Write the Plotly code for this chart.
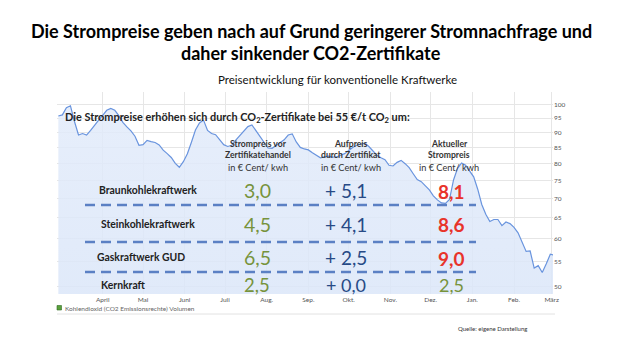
import pandas as pd
import plotly.graph_objects as go

# ---------------- data ----------------
start_date = "2021-02-27"
price_index = [
    95.8, 96.2, 98.9, 99.6, 93.8, 89.1, 89.6, 89.1, 90.7, 92.6,
    94.3, 96.0, 97.9, 98.6, 97.9, 95.9, 93.5, 91.9, 90.5, 88.7,
    85.7, 85.9, 87.3, 86.9, 86.6, 85.8, 84.1, 83.0, 81.8, 80.0,
    78.8, 80.5, 83.0, 86.7, 90.8, 93.3, 94.3, 90.7, 89.6, 89.2,
    87.6, 85.9, 85.3, 85.7, 87.4, 89.0, 90.3, 92.0, 92.6, 90.6,
    88.6, 86.4, 84.8, 84.7, 85.7, 86.4, 87.5, 89.1, 89.5, 86.8,
    85.0, 84.5, 84.2, 83.3, 82.4, 81.7, 82.0, 82.2, 81.9, 82.0,
    82.5, 83.0, 84.0, 85.0, 85.7, 86.1, 86.4, 85.3, 83.7, 82.5,
    81.7, 81.1, 79.4, 79.2, 80.3, 80.9, 79.9, 78.7, 76.9, 75.2,
    74.6, 73.5, 72.3, 70.7, 69.6, 68.8, 68.7, 69.7, 75.1, 78.5,
    80.1, 79.4, 77.7, 76.0, 72.5, 68.4, 65.9, 64.1, 64.6, 64.6,
    63.1, 64.0, 63.6, 62.7, 61.4, 59.4, 57.2, 57.3, 53.7, 54.2,
    52.8, 54.6, 56.6, 56.4,
]
dates = pd.date_range(start_date, periods=len(price_index), freq="3D")

month_ticks = ["2021-04-01", "2021-05-01", "2021-06-01", "2021-07-01", "2021-08-01",
               "2021-09-01", "2021-10-01", "2021-11-01", "2021-12-01", "2022-01-01",
               "2022-02-01", "2022-03-01"]
month_labels = ["April", "Mai", "Juni", "Juli", "Aug.", "Sep.", "Okt.", "Nov.",
                "Dez.", "Jan.", "Feb.", "März"]
y_ticks = [50, 55, 60, 65, 70, 75, 80, 85, 90, 95, 100]

plants = ["Braunkohlekraftwerk", "Steinkohlekraftwerk", "Gaskraftwerk GUD", "Kernkraft"]
price_before = [3.0, 4.5, 6.5, 2.5]
surcharge = [5.1, 4.1, 2.5, 0.0]
price_now = [8.1, 8.6, 9.0, 2.5]

col_headers = [
    ["Strompreis vor", "Zertifikatehandel", "in € Cent/ kwh"],
    ["Aufpreis", "durch Zertifikat", "in € Cent/ kwh"],
    ["Aktueller", "Strompreis", "in € Cent/ kwh"],
]

# ---------------- layout helpers ----------------
W, H = 620, 358
L, R, T, B = 57, 553, 92, 294


def px(x):
    return (x - L) / (R - L)


def py(y):
    return (B - y) / (B - T)


FONT = "Lato"
GREEN = "#77933c"
BLUE_TXT = "#274a86"
RED = "#e8332a"
DARK = "#222222"

fig = go.Figure()
fig.add_trace(go.Scatter(
    x=dates, y=price_index, mode="lines",
    line=dict(color="rgb(105,148,222)", width=1.2),
    fill="tozeroy",
    fillgradient=dict(type="vertical",
                      colorscale=[[0, "rgba(160,190,238,0.92)"],
                                  [0.5, "rgba(188,209,243,0.88)"],
                                  [1, "rgba(226,235,250,0.85)"]]),
    hoverinfo="skip", showlegend=False,
))

ann = []
# titles
ann.append(dict(x=px(311), y=py(31), text="<b>Die Strompreise geben nach auf Grund geringerer Stromnachfrage und</b>",
                font=dict(size=18, color="#000")))
ann.append(dict(x=px(311), y=py(53), text="<b>daher sinkender CO2-Zertifikate</b>",
                font=dict(size=18, color="#000")))
ann.append(dict(x=px(337), y=py(80), text="Preisentwicklung für konventionelle Kraftwerke",
                font=dict(size=11.5, color="#111")))
ann.append(dict(x=px(63), y=py(117), xanchor="left",
                text="<b>Die Strompreise erhöhen sich durch CO<sub>2</sub>-Zertifikate bei 55 €/t CO<sub>2</sub> um:</b>",
                font=dict(size=10.9, color=DARK)))

col_x = [258, 351, 449]
head_y = [144, 155, 167]
for cx, lines in zip(col_x, col_headers):
    for i, (ly, t) in enumerate(zip(head_y, lines)):
        txt = f"<b>{t}</b>" if i < 2 else t
        ann.append(dict(x=px(cx), y=py(ly), text=txt,
                        font=dict(size=8.6 if i < 2 else 9.2, color="#333")))

row_y = [190, 224, 257, 285]
label_x = [148, 148, 141, 123]
val_x = [257, 346, 451]
val_size = [19.5, 19.5, 19.5, 18.5]


def de(v):
    return f"{v:.1f}".replace(".", ",")


for i, name in enumerate(plants):
    ry = row_y[i]
    vs = val_size[i]
    ann.append(dict(x=px(label_x[i]), y=py(ry), text=f"<b>{name}</b>",
                    font=dict(size=10.4, color=DARK)))
    ann.append(dict(x=px(val_x[0]), y=py(ry), text=de(price_before[i]),
                    font=dict(size=vs, color=GREEN)))
    ann.append(dict(x=px(val_x[1]), y=py(ry), text="+ " + de(surcharge[i]),
                    font=dict(size=vs - 0.5, color=BLUE_TXT)))
    ann.append(dict(x=px(val_x[2]), y=py(ry + 1 if i < 3 else ry),
                    text="<b>" + de(price_now[i]) + "</b>" if surcharge[i] > 0 else de(price_now[i]),
                    font=dict(size=vs - 0.5, color=RED if surcharge[i] > 0 else GREEN)))

# legend and source
ann.append(dict(x=px(63), y=py(308), xanchor="left",
                text="Kohlendioxid (CO2 Emissionsrechte) Volumen",
                font=dict(size=6.5, color="#666")))
ann.append(dict(x=px(456), y=py(328), xanchor="left",
                text="Quelle: eigene Darstellung",
                font=dict(size=6, color="#333")))

for a in ann:
    a.setdefault("xanchor", "center")
    a.update(xref="paper", yref="paper", yanchor="middle", showarrow=False,
             font=dict(family=FONT, **a["font"]))

shapes = []
for dy in [205, 242, 272]:
    shapes.append(dict(type="line", xref="paper", yref="paper",
                       x0=px(85), x1=px(476), y0=py(dy), y1=py(dy),
                       line=dict(color="#5b80c4", width=2.5, dash="10px,6px")))
shapes.append(dict(type="rect", xref="paper", yref="paper",
                   x0=px(57), x1=px(61.5), y0=py(305.5), y1=py(310),
                   fillcolor="#5aa03c", line=dict(color="#2f6b22", width=0.6)))
shapes.append(dict(type="line", xref="paper", yref="paper",
                   x0=px(57), x1=px(555), y0=py(314), y1=py(314),
                   line=dict(color="#e2e2e2", width=1)))

fig.update_layout(
    width=W, height=H,
    margin=dict(l=L, r=W - R, t=T, b=H - B),
    paper_bgcolor="white", plot_bgcolor="white",
    annotations=ann, shapes=shapes,
    font=dict(family=FONT),
    xaxis=dict(type="date", range=["2021-02-26", "2022-03-02"],
               tickvals=month_ticks, ticktext=month_labels,
               tickfont=dict(size=6.5, color="#555"),
               showgrid=True, gridcolor="#e6e6e6", gridwidth=1,
               zeroline=False, showline=False, ticks=""),
    yaxis=dict(type="log", range=[1.6871, 2.0210], side="right",
               tickvals=y_ticks, ticktext=[str(v) for v in y_ticks],
               tickfont=dict(size=6.5, color="#555"),
               showgrid=True, gridcolor="#e6e6e6", gridwidth=1,
               zeroline=False, showline=False, ticks=""),
)

fig.write_html("out.html", config={"displayModeBar": False},
               post_script="document.body.style.margin='0';document.body.style.overflow='hidden';")
